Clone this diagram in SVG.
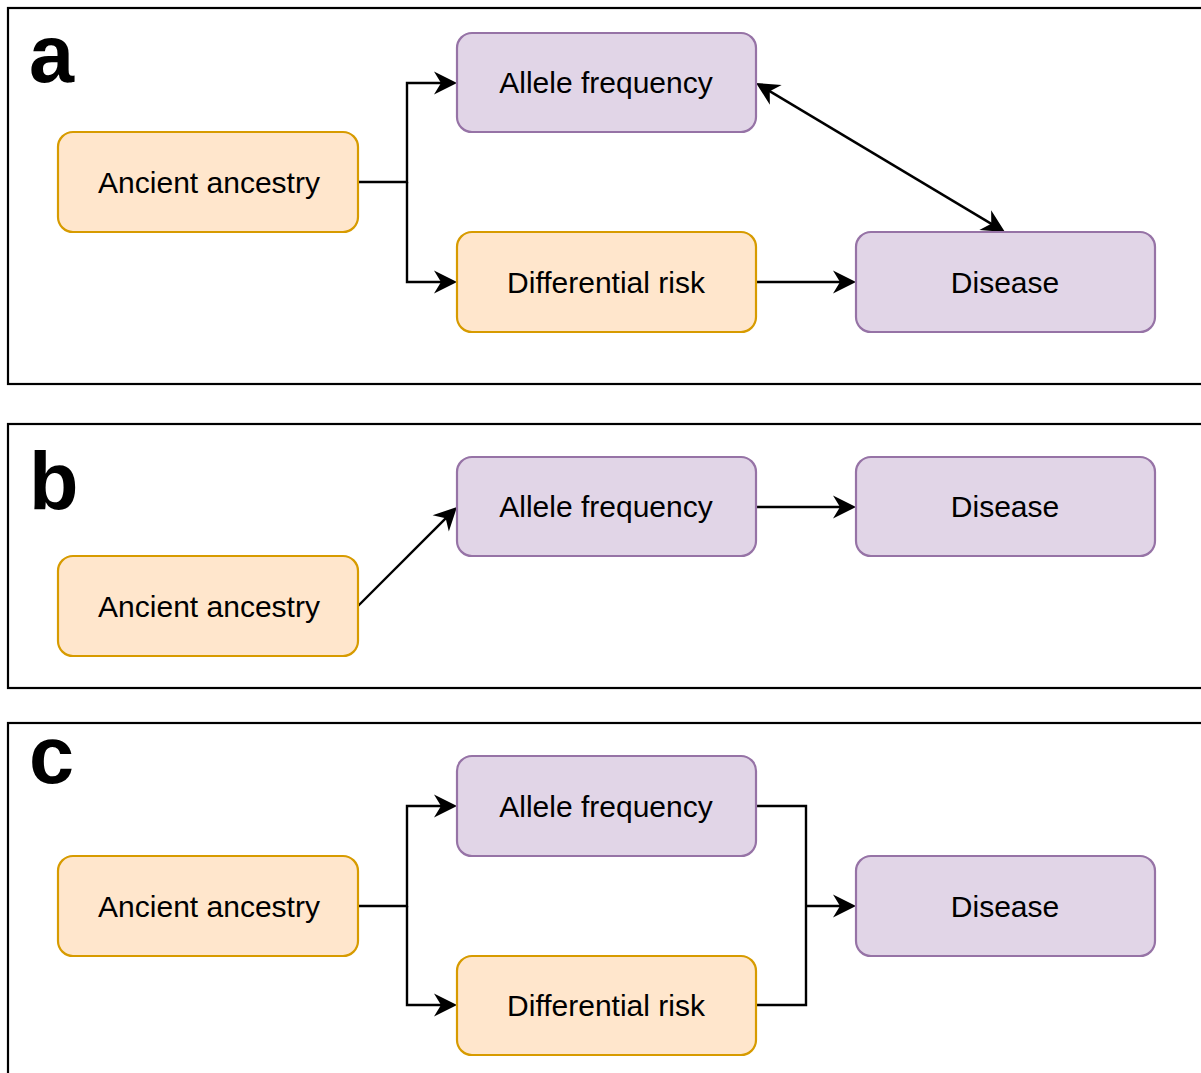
<svg xmlns="http://www.w3.org/2000/svg" width="1201" height="1073" viewBox="0 0 1201 1073">
<style>
.panel{fill:none;stroke:#000;stroke-width:2.2}
.lbl{font-family:"Liberation Sans",Arial,sans-serif;font-weight:bold;font-size:81px;fill:#000}
.o{fill:#ffe6cc;stroke:#d79b00;stroke-width:2.2}
.p{fill:#e1d5e7;stroke:#9673a6;stroke-width:2.2}
.t{font-family:"Liberation Sans",Arial,sans-serif;font-size:30px;fill:#000;text-anchor:middle}
.e{fill:none;stroke:#000;stroke-width:2.4}
</style>
<defs>
<marker id="arr" viewBox="-14 -12 25 24" markerWidth="25" markerHeight="24" refX="0" refY="0" orient="auto-start-reverse" markerUnits="userSpaceOnUse">
<path d="M10,0 L-13,-11.5 L-6,0 L-13,11.5 Z" fill="#000"/>
</marker>
</defs>
<rect fill="#fff" x="0" y="0" width="1201" height="1073"/>
<g id="panel-a">
<rect class="panel" x="8" y="8" width="1220" height="376"/>
<text class="lbl" x="29" y="82">a</text>
</g>
<g id="panel-b">
<rect class="panel" x="8" y="424" width="1220" height="264"/>
<text class="lbl" x="29" y="509">b</text>
</g>
<g id="panel-c">
<rect class="panel" x="8" y="723" width="1220" height="400"/>
<text class="lbl" x="29" y="783">c</text>
</g>
<g id="connectors">
<path class="e" d="M358,182 H407 V83 H447" marker-end="url(#arr)"/>
<path class="e" d="M407,182 V282 H447" marker-end="url(#arr)"/>
<path class="e" d="M756,282 H846" marker-end="url(#arr)"/>
<path class="e" d="M764.6,88.1 L996.4,226.9" marker-start="url(#arr)" marker-end="url(#arr)"/>
<path class="e" d="M358,606 L449.9,514.1" marker-end="url(#arr)"/>
<path class="e" d="M756,507 H846" marker-end="url(#arr)"/>
<path class="e" d="M358,906 H407 V806 H447" marker-end="url(#arr)"/>
<path class="e" d="M407,906 V1005 H447" marker-end="url(#arr)"/>
<path class="e" d="M756,806 H806 V1005 H756"/>
<path class="e" d="M806,906 H846" marker-end="url(#arr)"/>
</g>
<g id="a-ancestry"><rect class="o" x="58" y="132" width="300" height="100" rx="15"/><text class="t" x="209" y="193">Ancient ancestry</text></g>
<g id="a-allele"><rect class="p" x="457" y="33" width="299" height="99" rx="15"/><text class="t" x="606" y="93">Allele frequency</text></g>
<g id="a-risk"><rect class="o" x="457" y="232" width="299" height="100" rx="15"/><text class="t" x="606" y="293">Differential risk</text></g>
<g id="a-disease"><rect class="p" x="856" y="232" width="299" height="100" rx="15"/><text class="t" x="1005" y="293">Disease</text></g>
<g id="b-allele"><rect class="p" x="457" y="457" width="299" height="99" rx="15"/><text class="t" x="606" y="517">Allele frequency</text></g>
<g id="b-disease"><rect class="p" x="856" y="457" width="299" height="99" rx="15"/><text class="t" x="1005" y="517">Disease</text></g>
<g id="b-ancestry"><rect class="o" x="58" y="556" width="300" height="100" rx="15"/><text class="t" x="209" y="617">Ancient ancestry</text></g>
<g id="c-allele"><rect class="p" x="457" y="756" width="299" height="100" rx="15"/><text class="t" x="606" y="817">Allele frequency</text></g>
<g id="c-ancestry"><rect class="o" x="58" y="856" width="300" height="100" rx="15"/><text class="t" x="209" y="917">Ancient ancestry</text></g>
<g id="c-disease"><rect class="p" x="856" y="856" width="299" height="100" rx="15"/><text class="t" x="1005" y="917">Disease</text></g>
<g id="c-risk"><rect class="o" x="457" y="956" width="299" height="99" rx="15"/><text class="t" x="606" y="1016">Differential risk</text></g>
</svg>
